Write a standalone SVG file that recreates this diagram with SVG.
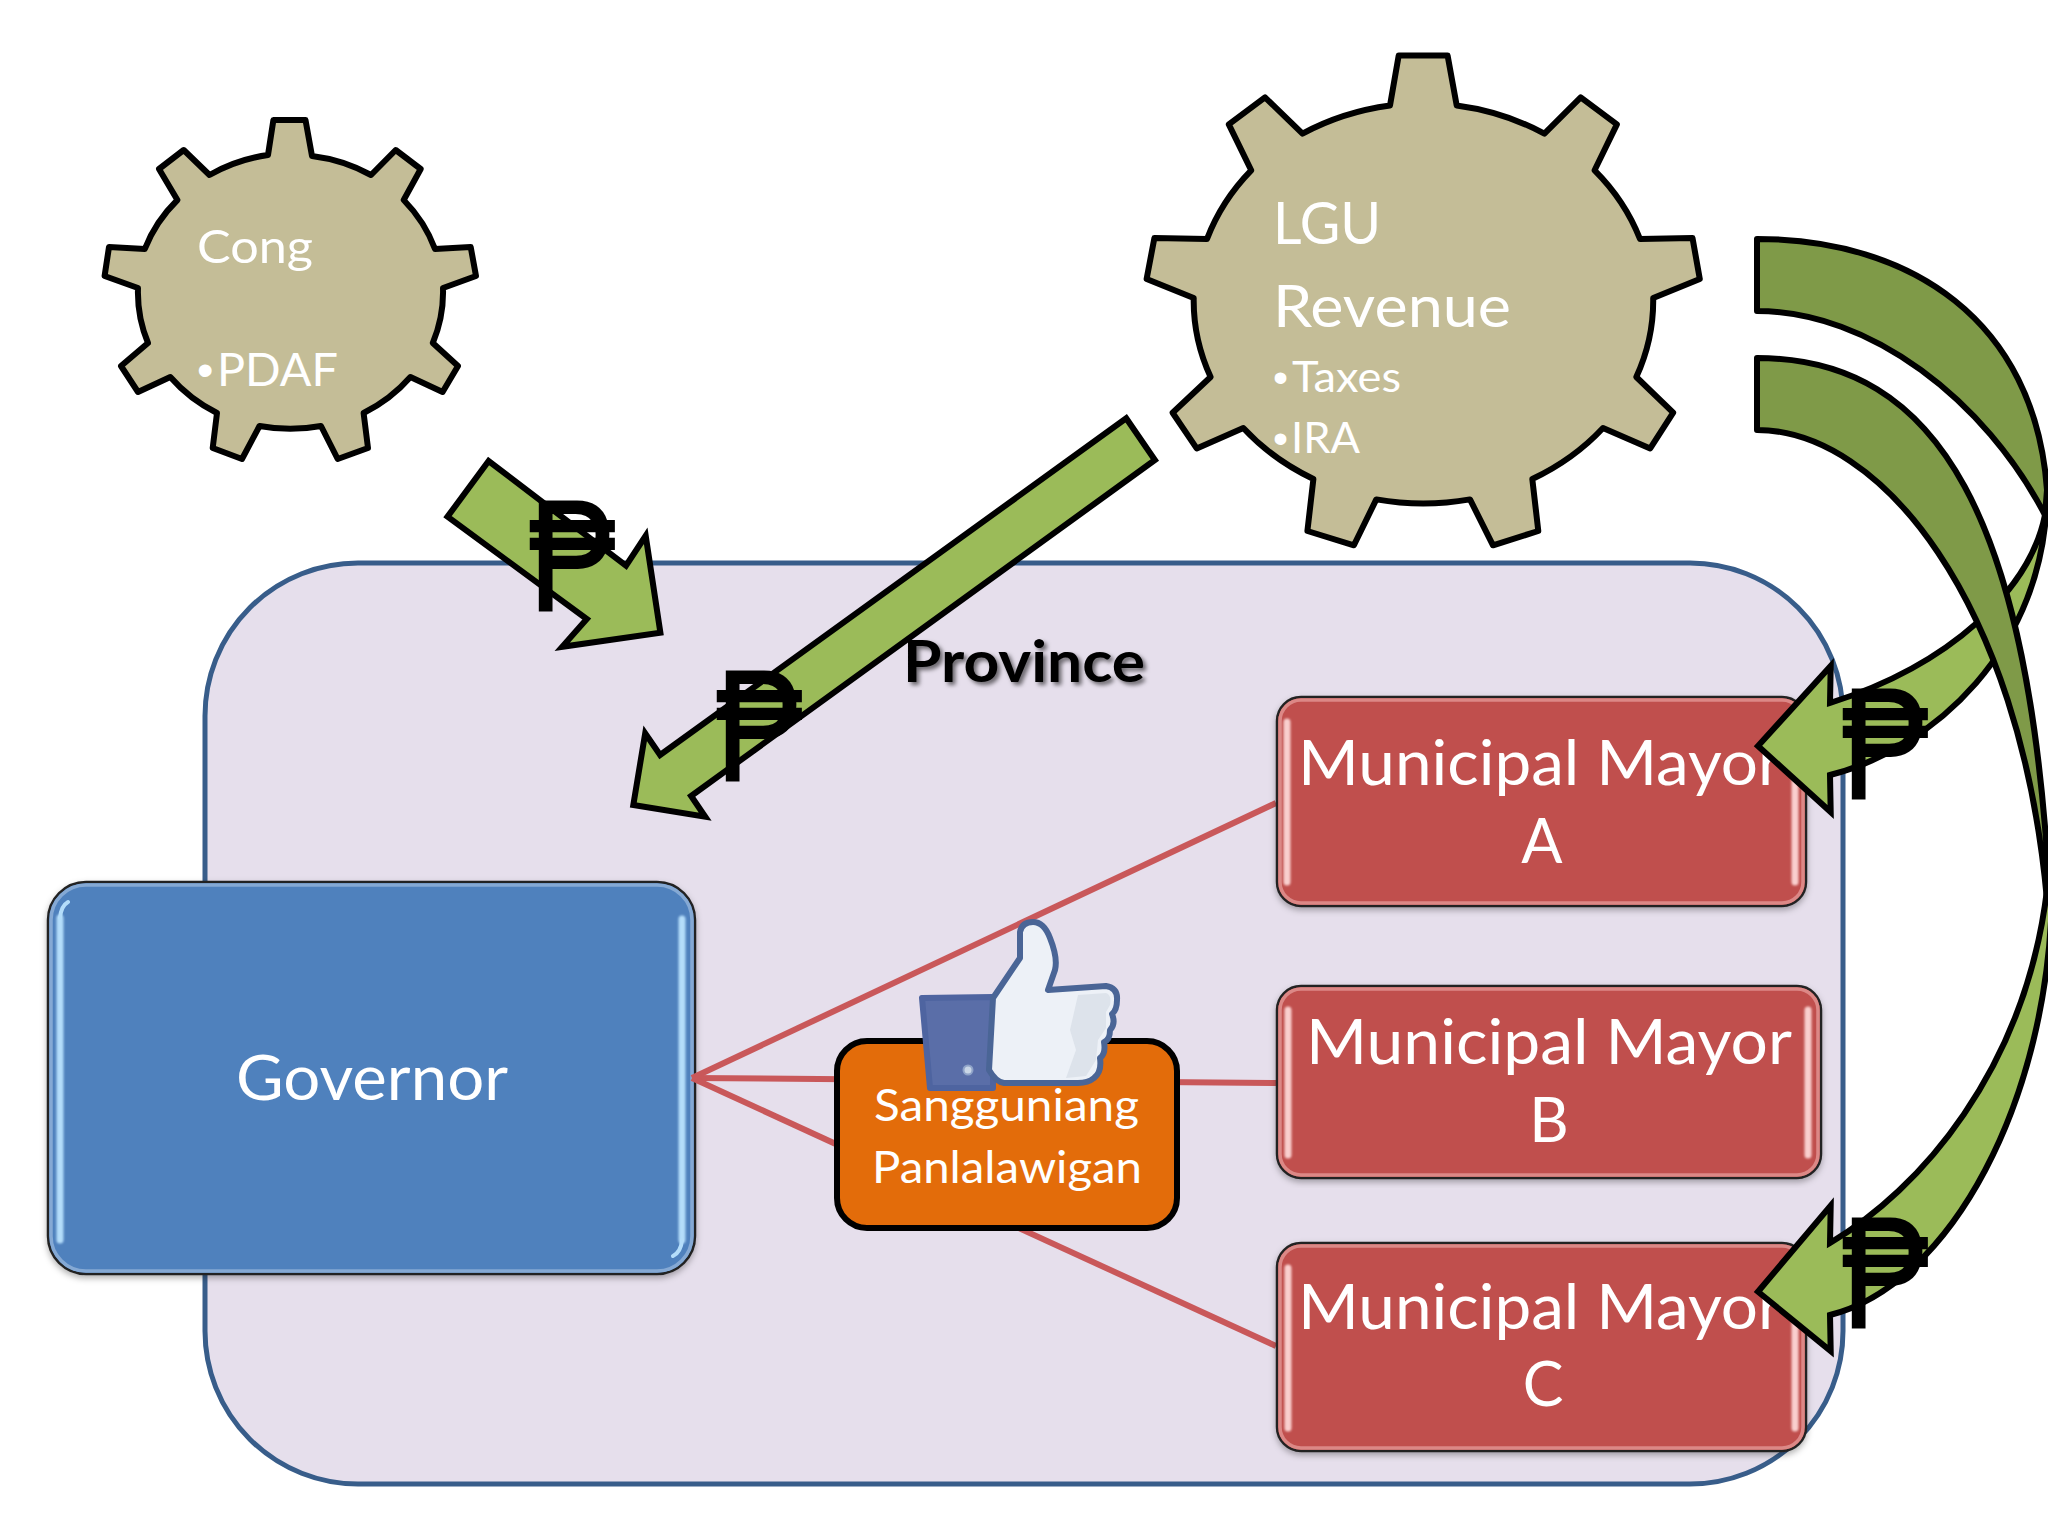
<svg xmlns="http://www.w3.org/2000/svg" width="2048" height="1536" viewBox="0 0 2048 1536">
<defs>
<filter id="soft" x="-5%" y="-5%" width="110%" height="110%"><feDropShadow dx="0" dy="3" stdDeviation="3" flood-color="#000" flood-opacity="0.3"/></filter>
<filter id="tshadow" x="-5%" y="-10%" width="115%" height="130%"><feDropShadow dx="3" dy="3" stdDeviation="2" flood-color="#000" flood-opacity="0.55"/></filter>
<filter id="glow" x="-50%" y="-5%" width="200%" height="110%"><feGaussianBlur stdDeviation="1"/></filter>
</defs>
<style>
text{font-family:Lato,"Open Sans","Liberation Sans",sans-serif;fill:#fff}
.b{font-family:"Liberation Sans",sans-serif}
.gear{fill:#C4BD97;stroke:#000;stroke-width:6;stroke-linejoin:round}
.light{fill:#9BBB59;stroke:#000;stroke-width:6;stroke-linejoin:miter}
.dark{fill:#7F9A48;stroke:#000;stroke-width:6;stroke-linejoin:round}
.red{stroke:#C9585A;stroke-width:6;fill:none}
.mayor{fill:#C0504D;stroke:#222;stroke-width:2.5;filter:url(#soft)}
.mayin{fill:none;stroke:#DC8886;stroke-width:3.5}
.mayhi{stroke:#F9CFCE;stroke-width:7;stroke-linecap:round;filter:url(#glow)}
.peso{font-family:"Liberation Sans","DejaVu Sans",sans-serif;font-size:158px;fill:#000;stroke:#000;stroke-width:2}
.m{font-size:61px}
.ctr{text-anchor:middle}
</style>
<g id="gear-cong">
<path class="gear" d="M268,155 L273.4,120 L305.5,120 L312,156 A155,142 0 0 1 371,175 L395.7,150 L420.7,169 L403.7,200 A155,142 0 0 1 435,249 L470.7,247 L476,276 L443,288 A155,142 0 0 1 432.8,343 L458,366 L442.6,392 L410.4,377 A155,142 0 0 1 363.6,413 L368,448 L337.7,459 L321,426 A155,142 0 0 1 259.5,426 L242,459 L212.7,448 L217,413 A155,142 0 0 1 170.3,377 L138,392 L121,366 L148,343 A155,142 0 0 1 138,288 L104.6,276 L109,247 L144.8,249 A155,142 0 0 1 177.4,200 L159,169 L183.7,150 L209.5,175 A155,142 0 0 1 268,155 Z"/>
<text x="197" y="263" font-size="47" textLength="116" lengthAdjust="spacingAndGlyphs">Cong</text>
<text y="386" font-size="47"><tspan class="b" x="197">•</tspan><tspan x="217" textLength="121" lengthAdjust="spacingAndGlyphs">PDAF</tspan></text>
</g>
<g id="gear-lgu">
<path class="gear" d="M1390,105.5 L1398.7,55.5 L1447.6,55.5 L1456.7,105.5 A235,205 0 0 1 1544.4,133.6 L1580.7,97.3 L1616.9,124.4 L1594.6,170.3 A235,205 0 0 1 1640,239 L1692.5,238 L1699.8,279 L1653.2,298 A235,205 0 0 1 1636.3,377 L1673.2,412.7 L1650.2,448.4 L1603,428 A235,205 0 0 1 1532.3,479 L1538.3,531 L1493,545.3 L1470,499.4 A235,205 0 0 1 1376.3,499.4 L1353.9,545.3 L1307.4,531 L1313.4,479 A235,205 0 0 1 1243.3,428 L1196.7,448.4 L1172.6,412.7 L1210.6,377 A235,205 0 0 1 1193.7,298 L1146.6,279 L1154.4,238 L1207,239 A235,205 0 0 1 1251.2,170.3 L1228.8,124.4 L1265,97.3 L1302.5,133.6 A235,205 0 0 1 1390,105.5 Z"/>
<text x="1273" y="244" font-size="58" textLength="108" lengthAdjust="spacingAndGlyphs">LGU</text>
<text x="1273" y="327" font-size="58" textLength="238" lengthAdjust="spacingAndGlyphs">Revenue</text>
<text y="392" font-size="43"><tspan class="b" x="1273">•</tspan><tspan x="1292" textLength="109" lengthAdjust="spacingAndGlyphs">Taxes</tspan></text>
<text y="453" font-size="43"><tspan class="b" x="1273">•</tspan><tspan x="1291" textLength="69" lengthAdjust="spacingAndGlyphs">IRA</tspan></text>
</g>
<g id="province">
<rect x="205" y="563" width="1638" height="921" rx="153" ry="153" fill="#E6DFEC" stroke="#385D8A" stroke-width="5"/>
<text x="903" y="682" font-size="58" font-weight="700" textLength="242" lengthAdjust="spacingAndGlyphs" style="fill:#000" filter="url(#tshadow)">Province</text>
</g>
<g id="governor">
<rect x="48" y="882" width="647" height="392" rx="38" ry="38" fill="#4F81BD" stroke="#222" stroke-width="2.5" filter="url(#soft)"/>
<rect x="51" y="885" width="641" height="386" rx="35" ry="35" fill="none" stroke="#85A9D4" stroke-width="3.5"/>
<path d="M60,918 V1240 M682,919 V1240" stroke="#B4DDFA" stroke-width="7" stroke-linecap="round" filter="url(#glow)"/>
<path d="M60,918 Q61,906 68,902 M682,1240 Q681,1252 673,1256" stroke="#B4DDFA" stroke-width="4" fill="none" stroke-linecap="round"/>
<text x="236" y="1100" font-size="61" textLength="272" lengthAdjust="spacingAndGlyphs">Governor</text>
</g>
<g id="connectors-red">
<path class="red" d="M692,1078 L1276,803"/>
<path class="red" d="M692,1078 L1276,1083"/>
<path class="red" d="M692,1078 L1276,1346"/>
</g>
<g id="sangguniang">
<rect x="837" y="1041" width="340" height="187" rx="30" ry="30" fill="#E36C0A" stroke="#000" stroke-width="6"/>
<text x="874" y="1121" font-size="44" textLength="265" lengthAdjust="spacingAndGlyphs">Sangguniang</text>
<text x="872" y="1183" font-size="44" textLength="270" lengthAdjust="spacingAndGlyphs">Panlalawigan</text>
</g>
<g id="mayor-a">
<rect class="mayor" x="1277" y="697" width="529" height="209" rx="24" ry="24"/>
<rect class="mayin" x="1280" y="700" width="523" height="203" rx="21" ry="21"/>
<path class="mayhi" d="M1287,722 V882 M1795,722 V882"/>
<text class="m" x="1298" y="785" textLength="484" lengthAdjust="spacingAndGlyphs">Municipal Mayor</text>
<text class="m ctr" x="1542" y="863">A</text>
</g>
<g id="mayor-b">
<rect class="mayor" x="1277" y="986" width="544" height="192" rx="24" ry="24"/>
<rect class="mayin" x="1280" y="989" width="538" height="186" rx="21" ry="21"/>
<path class="mayhi" d="M1288,1010 V1155 M1808,1010 V1155"/>
<text class="m" x="1306" y="1064" textLength="486" lengthAdjust="spacingAndGlyphs">Municipal Mayor</text>
<text class="m ctr" x="1549" y="1142">B</text>
</g>
<g id="mayor-c">
<rect class="mayor" x="1277" y="1243" width="529" height="208" rx="24" ry="24"/>
<rect class="mayin" x="1280" y="1246" width="523" height="202" rx="21" ry="21"/>
<path class="mayhi" d="M1288,1268 V1428 M1795,1268 V1428"/>
<text class="m" x="1298" y="1329" textLength="484" lengthAdjust="spacingAndGlyphs">Municipal Mayor</text>
<text class="m ctr" x="1543" y="1406">C</text>
</g>
<g id="thumb">
<path d="M922,998 L993,997 L993,1088 L930,1088 Z" fill="#5A6EA8" stroke="#4E64A0" stroke-width="6" stroke-linejoin="round"/>
<circle cx="968" cy="1070" r="4.5" fill="#C9D6E6" stroke="#8FA3C8" stroke-width="2"/>
<path d="M993,998 L1020,958 L1020,932 Q1022,922 1033,922 Q1044,922 1050,938 Q1058,958 1055,970 L1048,990 L1106,986 Q1118,988 1117,1000 Q1117,1010 1112,1014 Q1116,1024 1110,1030 Q1110,1040 1104,1042 Q1106,1054 1100,1058 Q1102,1072 1094,1078 Q1088,1083 1078,1083 L1004,1083 Q996,1082 989,1070 Z" fill="#EDF1F7" stroke="#4A6596" stroke-width="6" stroke-linejoin="round"/>
<path d="M1078,995 L1106,993 Q1112,995 1110,1005 L1106,1012 L1106,1028 L1098,1040 L1096,1060 L1086,1076 L1066,1078 L1076,1050 L1070,1030 Z" fill="#DDE3EB"/>
</g>
<g id="connectors-flow">
<path class="light" d="M488.6,461 L447.5,516.7 L586.8,619 L562.2,646.8 L660.4,632.7 L645.7,535.8 L626,565.7 Z"/>
<path class="light" d="M1126.2,418.3 L1154.9,460 L691.1,796 L705.2,816.7 L633.3,805 L645.2,733.3 L660.1,755 Z"/>
<path class="light" d="M2045,515 C2030,590 1950,665 1830,703 L1830.7,666 L1758,746 L1830.7,812 L1830,775 C1930,750 2047,650 2047,490 Z"/>
<path class="dark" d="M1757,239 C1910,239 2035,320 2047,490 L2045,515 C1985,400 1870,311 1757,311 Z"/>
<path class="light" d="M2047,890 C2025,1070 1920,1190 1830,1243 L1830.7,1205.6 L1758,1291.7 L1830.7,1351 L1830,1315 C1950,1285 2050,1100 2052,890 Z"/>
<path class="dark" d="M1757,358 C1940,358 2030,520 2050,900 L2047,900 C2020,600 1880,430 1757,430 Z"/>
</g>
<g id="pesos">
<text class="peso" transform="translate(529,610) scale(.82,1)">₱</text>
<text class="peso" transform="translate(716,780) scale(.82,1)">₱</text>
<text class="peso" transform="translate(1842,798) scale(.82,1)">₱</text>
<text class="peso" transform="translate(1842,1327) scale(.82,1)">₱</text>
</g>
</svg>
